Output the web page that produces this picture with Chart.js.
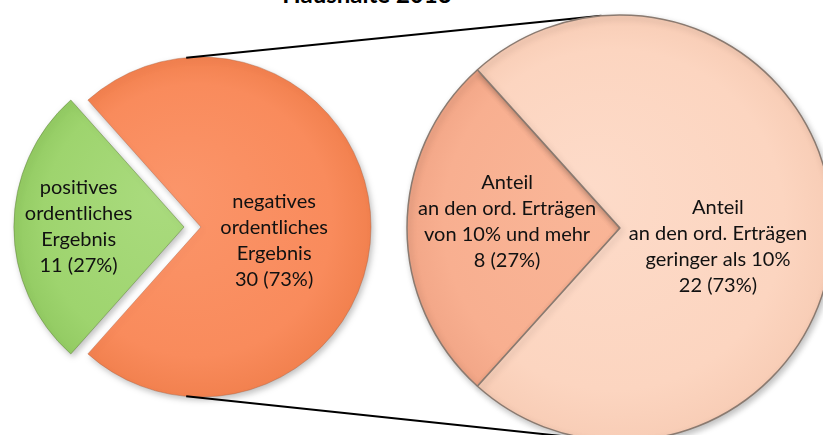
<!DOCTYPE html>
<html><head><meta charset="utf-8">
<script src="https://cdn.jsdelivr.net/npm/chart.js@4/dist/chart.umd.min.js"></script>
<style>
html,body{margin:0;padding:0;width:823px;height:435px;overflow:hidden;background:#fff;}
#title{position:absolute;left:0;width:734px;text-align:center;top:-18px;font:bold 24px Lato,'Open Sans',sans-serif;color:#000;white-space:nowrap;line-height:24px;}
#leftBox{position:absolute;left:0;top:0;width:402px;height:454px;}
#rightBox{position:absolute;left:0;top:0;width:840px;height:456px;}
</style></head><body>
<div id="title">Haushalte 2013</div>
<div id="leftBox"><canvas id="leftChart"></canvas></div>
<div id="rightBox"><canvas id="rightChart"></canvas></div>
<script>
// ---- data ----
const leftCategories = ['positives ordentliches Ergebnis', 'negatives ordentliches Ergebnis'];
const leftValues = [11, 30];
const leftLabelLines = [['positives', 'ordentliches', 'Ergebnis'], ['negatives', 'ordentliches', 'Ergebnis']];

const rightCategories = ['Anteil an den ord. Erträgen von 10% und mehr', 'Anteil an den ord. Erträgen geringer als 10%'];
const rightValues = [8, 22];
const rightLabelLines = [['Anteil', 'an den ord. Erträgen', 'von 10% und mehr'], ['Anteil', 'an den ord. Erträgen', 'geringer als 10%']];

// ---- styles ----
const leftColors = [['#aadb7e', '#9ed46e', '#93cb63'], ['#fb956a', '#f98b5c', '#f2814f']];
const rightColors = [['#f9b698', '#f8af90', '#f2a687'], ['#fddbc9', '#fcd5c0', '#f8cdb6']];
const LABEL_FONT = '20px Lato, "Open Sans", sans-serif';
const LEFT_RADIUS = 170, RIGHT_RADIUS = 213;

function sum(a) { return a.reduce((s, v) => s + v, 0); }
function rotationFor(values) { return 270 - (values[0] / sum(values)) * 180; }

function gradientFill(palette, r) {
  return (c) => {
    const stops = palette[c.dataIndex % palette.length];
    const area = c.chart.chartArea;
    if (!area) return stops[1];
    const cx = (area.left + area.right) / 2, cy = (area.top + area.bottom) / 2;
    const g = c.chart.ctx.createRadialGradient(cx - r * 0.15, cy - r * 0.2, 0, cx, cy, r);
    g.addColorStop(0, stops[0]);
    g.addColorStop(0.8, stops[1]);
    g.addColorStop(1, stops[2]);
    return g;
  };
}

const shadowPlugin = {
  id: 'shadow',
  beforeDatasetsDraw(chart) {
    const ctx = chart.ctx;
    ctx.save();
    ctx.shadowColor = 'rgba(0,0,0,0.25)';
    ctx.shadowBlur = 6;
    ctx.shadowOffsetX = 2;
    ctx.shadowOffsetY = 3;
  },
  afterDatasetsDraw(chart) { chart.ctx.restore(); }
};

function labelPlugin(lines, values, pos) {
  return {
    id: 'labels',
    afterDraw(chart) {
      const meta = chart.getDatasetMeta(0);
      const total = sum(values);
      const ctx = chart.ctx;
      ctx.save();
      ctx.font = LABEL_FONT;
      ctx.fillStyle = '#111';
      ctx.textAlign = 'center';
      ctx.textBaseline = 'middle';
      meta.data.forEach((arc, i) => {
        const r = arc.outerRadius;
        const mid = (arc.startAngle + arc.endAngle) / 2;
        const off = (arc.options.offset || 0) / 4;
        const cx = arc.x + Math.cos(mid) * off + pos[i][0] * r;
        const cy = arc.y + Math.sin(mid) * off + pos[i][1] * r;
        const all = [...lines[i], values[i] + ' (' + Math.round(values[i] / total * 100) + '%)'];
        const lh = 26;
        all.forEach((t, k) => ctx.fillText(t, cx, cy + (k - (all.length - 1) / 2) * lh));
      });
      ctx.restore();
    }
  };
}

const leftChart = new Chart(document.getElementById('leftChart'), {
  type: 'pie',
  data: {
    labels: leftCategories,
    datasets: [{
      data: leftValues,
      backgroundColor: gradientFill(leftColors, LEFT_RADIUS),
      borderColor: ['rgba(95,130,60,0.5)', 'rgba(170,90,55,0.4)'],
      borderWidth: 1,
      offset: [68, 0]
    }]
  },
  options: {
    responsive: true, maintainAspectRatio: false, animation: false,
    radius: LEFT_RADIUS,
    rotation: rotationFor(leftValues),
    layout: { padding: 0 },
    plugins: { legend: { display: false }, tooltip: { enabled: false }, title: { display: false } }
  },
  plugins: [shadowPlugin, labelPlugin(leftLabelLines, leftValues, [[-0.62, 0], [0.43, 0.08]])]
});

const connectorPlugin = {
  id: 'connector',
  beforeDatasetsDraw(chart) {
    const la = leftChart.getDatasetMeta(0).data[1];
    const ra = chart.getDatasetMeta(0).data[0];
    if (!la || !ra) return;
    const lr = la.outerRadius, rr = ra.outerRadius;
    const a = 95 * Math.PI / 180;
    const dx = Math.abs(Math.cos(a)), dy = Math.sin(a);
    const ctx = chart.ctx;
    ctx.save();
    ctx.strokeStyle = '#000';
    ctx.lineWidth = 2;
    [-1, 1].forEach(sy => {
      ctx.beginPath();
      ctx.moveTo(la.x - dx * lr, la.y + sy * dy * lr);
      ctx.lineTo(ra.x - dx * rr, ra.y + sy * dy * rr);
      ctx.stroke();
    });
    ctx.restore();
  }
};

const rightChart = new Chart(document.getElementById('rightChart'), {
  type: 'pie',
  data: {
    labels: rightCategories,
    datasets: [{
      data: rightValues,
      backgroundColor: gradientFill(rightColors, RIGHT_RADIUS),
      borderColor: '#8a7a70',
      borderWidth: 1.5
    }]
  },
  options: {
    responsive: true, maintainAspectRatio: false, animation: false,
    radius: RIGHT_RADIUS,
    rotation: rotationFor(rightValues),
    layout: { padding: { left: 400 } },
    plugins: { legend: { display: false }, tooltip: { enabled: false }, title: { display: false } }
  },
  plugins: [connectorPlugin, shadowPlugin, labelPlugin(rightLabelLines, rightValues, [[-0.53, -0.03], [0.46, 0.085]])]
});
</script>
</body></html>
